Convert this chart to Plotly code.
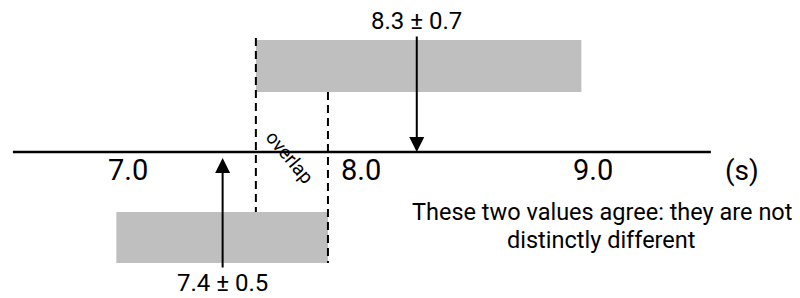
import plotly.graph_objects as go

# ---- data ----
tick_values = [7.0, 8.0, 9.0]
tick_labels = ["7.0", "8.0", "9.0"]
unit_label = "(s)"

measurements = [8.242, 7.407]            # arrow positions
measurement_labels = ["8.3 ± 0.7", "7.4 ± 0.5"]
interval_low = [7.55, 6.95]              # grey band left edges
interval_high = [8.95, 7.86]             # grey band right edges

axis_start = 6.505
axis_end = 9.507

overlap_label = "overlap"
note_lines = ["These two values agree: they are not", "distinctly different"]

FONT = "Roboto"
GREY = "rgb(191,191,191)"

# vertical layout (pixels above the axis line; negative = below)
band_centre = [86, -85.5]
band_height = [52, 51]

fig = go.Figure()

fig.add_trace(go.Bar(
    orientation="h",
    y=band_centre,
    base=interval_low,
    x=[h - l for h, l in zip(interval_high, interval_low)],
    width=band_height,
    marker=dict(color=GREY, line=dict(width=0)),
    hoverinfo="skip",
    showlegend=False,
))

# main axis line
fig.add_shape(type="line", xref="x", yref="y",
              x0=axis_start, x1=axis_end, y0=0, y1=0,
              line=dict(color="black", width=2.5))

# dashed overlap guides
fig.add_shape(type="line", xref="x", yref="y",
              x0=interval_low[0], x1=interval_low[0], y0=114, y1=-60,
              line=dict(color="black", width=2, dash="8px,5px"))
fig.add_shape(type="line", xref="x", yref="y",
              x0=interval_high[1], x1=interval_high[1], y0=60, y1=-111,
              line=dict(color="black", width=2, dash="8px,5px"))

# arrows with value labels
fig.add_annotation(x=measurements[0], y=0, xref="x", yref="y",
                   ax=measurements[0], ay=131, axref="x", ayref="y",
                   text=measurement_labels[0], showarrow=True,
                   arrowhead=2, arrowsize=1.5, arrowwidth=2, arrowcolor="black",
                   font=dict(family=FONT, size=24, color="black"))
fig.add_annotation(x=measurements[1], y=-6, xref="x", yref="y",
                   ax=measurements[1], ay=-131, axref="x", ayref="y",
                   text=measurement_labels[1], showarrow=True,
                   arrowhead=2, arrowsize=1.5, arrowwidth=2, arrowcolor="black",
                   font=dict(family=FONT, size=24, color="black"))

# overlap label
fig.add_annotation(x=7.697, y=-5, xref="x", yref="y", text=overlap_label,
                   textangle=50, showarrow=False,
                   font=dict(family=FONT, size=19, color="black"))

# unit label
fig.add_annotation(x=9.641, y=-18, xref="x", yref="y", text=unit_label,
                   showarrow=False, font=dict(family=FONT, size=28, color="black"))

# note (two lines)
for line_text, yy in zip(note_lines, [-60, -88]):
    fig.add_annotation(x=9.038, y=yy, xref="x", yref="y", text=line_text,
                       showarrow=False, align="center",
                       font=dict(family=FONT, size=23.5, color="black"))

# tick labels on the axis line
for v, t in zip(tick_values, tick_labels):
    fig.add_annotation(x=v, y=-18, xref="x", yref="y", text=t,
                       showarrow=False, font=dict(family=FONT, size=29, color="black"))

# page body has an 8px margin, so ranges are offset to compensate
fig.update_layout(
    width=800, height=298,
    margin=dict(l=0, r=0, t=0, b=0),
    paper_bgcolor="white", plot_bgcolor="white",
    showlegend=False,
    barmode="overlay",
    xaxis=dict(range=[6.4839, 9.9247], visible=False, fixedrange=True),
    yaxis=dict(range=[-154, 144], visible=False, fixedrange=True),
    font=dict(family=FONT),
)

fig.write_html("out.html")
